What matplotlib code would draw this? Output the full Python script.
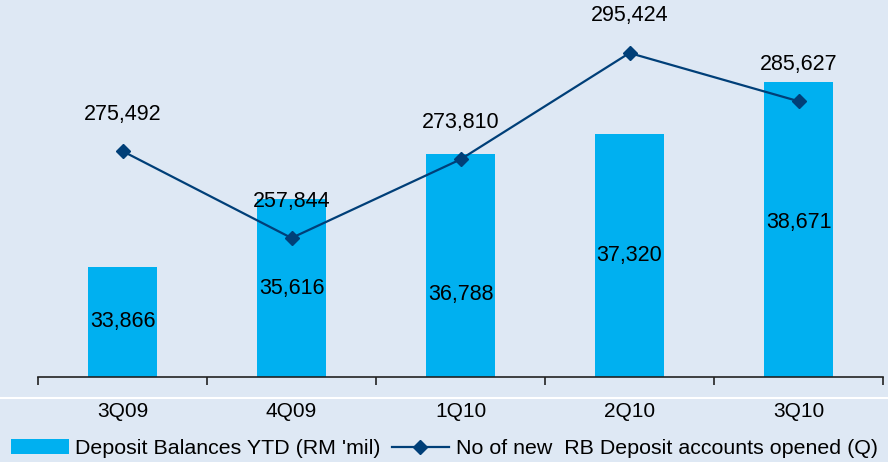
import numpy as np
import matplotlib.pyplot as plt
from matplotlib.lines import Line2D

plt.rcParams['font.family'] = ['Liberation Sans', 'DejaVu Sans']

# Data
quarters = ['3Q09', '4Q09', '1Q10', '2Q10', '3Q10']
deposit_balances = [33866, 35616, 36788, 37320, 38671]
new_accounts = [275492, 257844, 273810, 295424, 285627]
bar_label_shift = [0, 0, -29, 0, 7]   # pixel nudges for bar labels

bg = '#dee8f4'
bar_color = '#00b0f0'
line_color = '#003f78'

fig = plt.figure(figsize=(8.88, 4.62), dpi=100, facecolor=bg)
ax = fig.add_axes([38 / 888, 85 / 462, 845 / 888, 377 / 462])
ax.set_facecolor(bg)

x = np.arange(len(quarters))
bars = ax.bar(x, deposit_balances, width=0.41, color=bar_color,
              label="Deposit Balances YTD (RM 'mil)", zorder=2)
ax.set_ylim(31000, 40790)
ax.set_xlim(-0.5, len(quarters) - 0.5)

# bar value labels roughly at the middle of each bar
for xi, v, dy in zip(x, deposit_balances, bar_label_shift):
    ax.annotate(f'{v:,}', xy=(xi, (31000 + v) / 2), xytext=(0, dy),
                textcoords='offset pixels', ha='center', va='center',
                fontsize=15.5, zorder=5)

ax2 = ax.twinx()
ax2.plot(x, new_accounts, color=line_color, lw=1.6, marker='D',
         markersize=7.5, label='No of new  RB Deposit accounts opened (Q)',
         zorder=3)
ax2.set_ylim(229609, 306190)
for xi, v in zip(x, new_accounts):
    ax2.annotate(f'{v:,}', xy=(xi, v), xytext=(0, 37),
                 textcoords='offset pixels', ha='center', va='center',
                 fontsize=15.5)

for a in (ax, ax2):
    for s in ('top', 'right', 'left'):
        a.spines[s].set_visible(False)
    a.set_yticks([])
ax2.spines['bottom'].set_visible(False)
ax.spines['bottom'].set_color('#222222')
ax.spines['bottom'].set_linewidth(1.2)

# ticks sit between categories, labels at the centres
ax.set_xticks(np.arange(-0.5, len(quarters)), minor=False)
ax.set_xticklabels([])
ax.tick_params(axis='x', direction='out', length=6, width=1.2, color='#222222')
ax.set_xticks(x, minor=True)
ax.set_xticklabels(quarters, minor=True, fontsize=15)
ax.tick_params(axis='x', which='minor', length=0, pad=18)

# white separator line under the plot area
fig.add_artist(Line2D([0, 1], [1 - 398 / 462] * 2, color='white', lw=1.5))

h1, l1 = ax.get_legend_handles_labels()
h2, l2 = ax2.get_legend_handles_labels()
fig.legend(h1 + h2, l1 + l2, loc='lower left', bbox_to_anchor=(-0.009, -0.033),
           ncol=2, frameon=False, fontsize=15.4, handlelength=2.7,
           handletextpad=0.3, columnspacing=0.5)

fig.savefig('out.png', dpi=100, facecolor=bg)
